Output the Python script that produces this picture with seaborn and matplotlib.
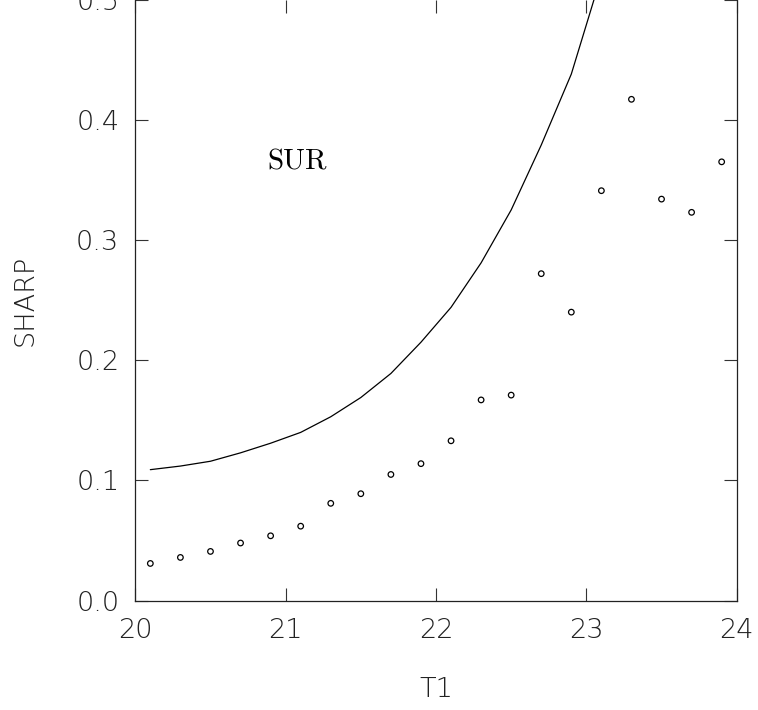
import matplotlib
matplotlib.use("Agg")
import matplotlib.pyplot as plt
import seaborn as sns
import pandas as pd

# Observed sharpness values
t1_obs = [20.1, 20.3, 20.5, 20.7, 20.9, 21.1, 21.3, 21.5, 21.7, 21.9,
          22.1, 22.3, 22.5, 22.7, 22.9, 23.1, 23.3, 23.5, 23.7, 23.9]
sharp_obs = [0.031, 0.036, 0.041, 0.048, 0.054, 0.062, 0.081, 0.089, 0.105, 0.114,
             0.133, 0.167, 0.171, 0.272, 0.240, 0.341, 0.417, 0.334, 0.323, 0.365]

# SUR model curve
t1_fit = [20.1, 20.3, 20.5, 20.7, 20.9, 21.1, 21.3, 21.5, 21.7, 21.9,
          22.1, 22.3, 22.5, 22.7, 22.9, 23.1]
sharp_fit = [0.109, 0.112, 0.116, 0.123, 0.131, 0.140, 0.153, 0.169, 0.189, 0.215,
             0.244, 0.281, 0.325, 0.379, 0.438, 0.520]

x_ticks = [20, 21, 22, 23, 24]
y_ticks = [0.0, 0.1, 0.2, 0.3, 0.4, 0.5]

sns.set_style("ticks")
plt.rcParams["font.family"] = ["DejaVu Sans"]

obs = pd.DataFrame({"T1": t1_obs, "SHARP": sharp_obs})
fit = pd.DataFrame({"T1": t1_fit, "SHARP": sharp_fit})

fig = plt.figure(figsize=(7.58, 7.10), dpi=100)
ax = fig.add_axes([0.1785, 0.1539, 0.7934, 0.8468])

sns.lineplot(data=fit, x="T1", y="SHARP", ax=ax, color="black",
             linewidth=0.9, sort=False, estimator=None)
sns.scatterplot(data=obs, x="T1", y="SHARP", ax=ax, marker="o", s=16,
                facecolors="none", edgecolor="black", linewidth=0.9)

ax.set_xlim(20, 24)
ax.set_ylim(0, 0.5)
ax.set_xticks(x_ticks)
ax.set_yticks(y_ticks)
ax.set_xticklabels([str(v) for v in x_ticks])
ax.set_yticklabels([f"{v:.1f}" for v in y_ticks])

# frame: top edge sits at the figure border, so only its ticks show
for side in ["left", "right", "bottom"]:
    ax.spines[side].set_visible(True)
    ax.spines[side].set_linewidth(0.9)
    ax.spines[side].set_color("#222222")
ax.spines["top"].set_visible(False)

ax.tick_params(axis="both", which="major", direction="in", length=9.4,
               width=0.8, color="#333333", labelcolor="#222222",
               labelsize=19.5, top=True, right=True)
ax.tick_params(axis="x", pad=12.5)
ax.tick_params(axis="y", pad=11.5)
for lab in ax.get_xticklabels() + ax.get_yticklabels():
    lab.set_fontweight("light")

ax.set_xlabel("T1", fontsize=19.5, color="#222222", fontweight="light")
ax.set_ylabel("SHARP", fontsize=19.5, color="#222222", fontweight="light")
ax.xaxis.set_label_coords(0.5, -0.148)
ax.xaxis.label.set_va("center")
ax.yaxis.set_label_coords(-0.1825, 0.5)
ax.yaxis.label.set_va("center")

ax.text(21.073, 0.365, "SUR", fontsize=21, family="cmr10",
        ha="center", va="center", color="black")

fig.savefig("out.png", dpi=100)
